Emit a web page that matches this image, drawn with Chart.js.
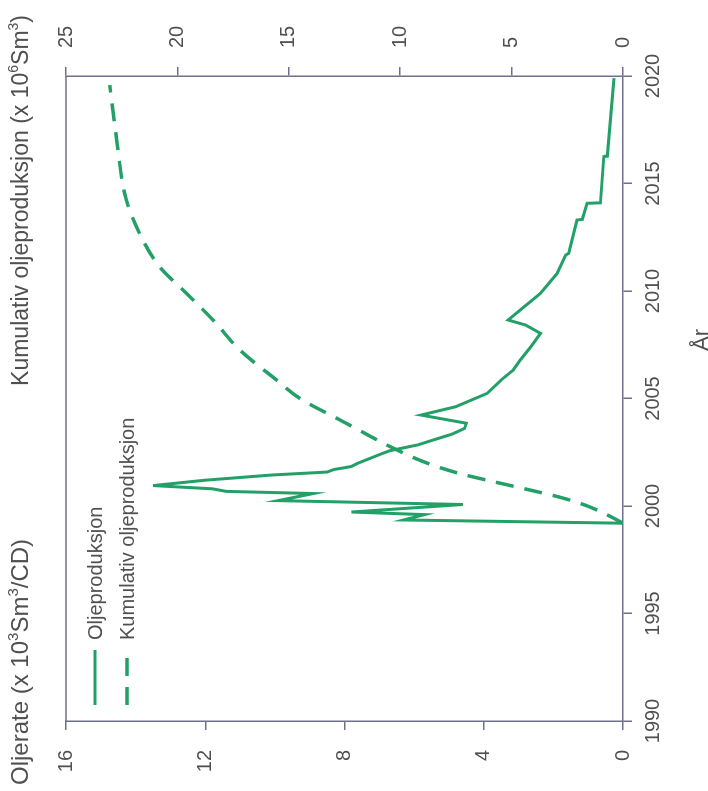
<!DOCTYPE html>
<html>
<head>
<meta charset="utf-8">
<script src="https://cdn.jsdelivr.net/npm/chart.js@4/dist/chart.umd.min.js"></script>
<style>
  html, body { margin: 0; padding: 0; background: #fff; overflow: hidden; }
  /* the chart is drawn upright and turned a quarter turn, like the scanned page */
  #wrap {
    position: absolute; left: 0; top: 0; width: 791px; height: 708px;
    transform-origin: 0 0; transform: translate(0, 791px) rotate(-90deg);
  }
</style>
</head>
<body>
<div id="wrap"><canvas id="c" width="791" height="708"></canvas></div>
<script>
// Oljerate (x 10^3 Sm3/CD)
const rateYears = [1999.2, 1999.35, 1999.6, 1999.72, 2000.07, 2000.25, 2000.58, 2000.68, 2000.8, 2000.95,
  2001.2, 2001.44, 2001.58, 2001.7, 2001.78, 2001.84, 2002.0, 2002.45, 2002.57, 2002.84,
  2003.07, 2003.35, 2003.61, 2003.85, 2004.23, 2004.62, 2005.24, 2005.86, 2006.33, 2006.79,
  2007.4, 2008.03, 2008.42, 2008.65, 2009.25, 2009.89, 2010.82, 2011.67, 2011.75, 2013.3,
  2013.33, 2014.08, 2014.1, 2016.25, 2016.27, 2019.9];
const rateValues = [0.0, 6.3, 5.7, 7.8, 4.6, 9.9, 8.9, 11.4, 11.8, 13.5,
  12.0, 10.1, 8.5, 8.3, 8.0, 7.8, 7.6, 6.9, 6.7, 5.9,
  5.45, 4.9, 4.55, 4.5, 5.8, 4.8, 3.9, 3.5, 3.15, 2.95,
  2.65, 2.37, 2.8, 3.3, 2.85, 2.37, 1.89, 1.65, 1.56, 1.32,
  1.17, 1.03, 0.65, 0.55, 0.45, 0.26];

// Kumulativ oljeproduksjon (x 10^6 Sm3)
const cumYears = [1999.2, 1999.58, 2000.0, 2000.37, 2000.88, 2001.2, 2001.53, 2002.0, 2002.76, 2003.5,
  2004.0, 2005.0, 2005.86, 2007.26, 2008.65, 2009.9, 2011.13, 2012.68, 2014.23, 2017.18, 2019.58];
const cumValues = [0, 0.7, 1.6, 2.7, 4.75, 6.1, 7.4, 8.8, 10.45, 11.8,
  12.7, 14.5, 15.55, 17.2, 18.4, 19.6, 20.8, 21.7, 22.29, 22.74, 23.04];

const yearRange = [1990, 2020];
const rateRange = [0, 16];
const cumRange = [0, 25];
const seriesNames = ['Oljeproduksjon', 'Kumulativ oljeproduksjon'];

const green = '#23a067';
const axisColor = '#6f6f8e';
const textColor = '#505050';
const family = '"Liberation Sans", Arial, Helvetica, sans-serif';

function toPoints(xs, ys) {
  return xs.map((x, i) => ({ x: x, y: ys[i] }));
}

// text with superscripts: parts = [[text, isSup], ...]
function drawRich(ctx, parts, x, y, align, size) {
  const supSize = Math.round(size * 0.62);
  let w = 0;
  parts.forEach(([t, sup]) => {
    ctx.font = (sup ? supSize : size) + 'px ' + family;
    w += ctx.measureText(t).width;
  });
  let cx = align === 'right' ? x - w : x;
  ctx.textBaseline = 'alphabetic';
  ctx.textAlign = 'left';
  parts.forEach(([t, sup]) => {
    ctx.font = (sup ? supSize : size) + 'px ' + family;
    ctx.fillText(t, cx, sup ? y - size * 0.42 : y);
    cx += ctx.measureText(t).width;
  });
}

const decorations = {
  id: 'decorations',
  afterDraw(chart) {
    const { ctx, chartArea: a } = chart;
    ctx.save();

    // top frame line
    ctx.strokeStyle = axisColor;
    ctx.lineWidth = 1.5;
    ctx.beginPath();
    ctx.moveTo(a.left, a.top);
    ctx.lineTo(a.right, a.top);
    ctx.stroke();

    // axis titles
    ctx.fillStyle = textColor;
    drawRich(ctx, [['Oljerate (x 10', false], ['3', true], ['Sm', false], ['3', true], ['/CD)', false]], 6, 28, 'left', 24);
    drawRich(ctx, [['Kumulativ oljeproduksjon (x 10', false], ['6', true], ['Sm', false], ['3', true], [')', false]], 776, 28, 'right', 23);

    ctx.font = '22px ' + family;
    ctx.textAlign = 'center';
    ctx.textBaseline = 'middle';
    ctx.fillText('År', 451, 702);

    // legend inside the plot
    const rows = [a.top + 29, a.top + 61];
    chart.data.datasets.forEach((ds, i) => {
      const y = rows[i];
      ctx.strokeStyle = ds.borderColor;
      ctx.lineWidth = ds.borderWidth;
      ctx.setLineDash(ds.borderDash || []);
      ctx.beginPath();
      ctx.moveTo(a.left + 16, y);
      ctx.lineTo(a.left + 71, y);
      ctx.stroke();
      ctx.setLineDash([]);
      ctx.fillStyle = textColor;
      ctx.font = '20px ' + family;
      ctx.textAlign = 'left';
      ctx.textBaseline = 'middle';
      ctx.fillText(ds.label, a.left + 81, y + 1);
    });
    ctx.restore();
  }
};

function axisStyle(extra) {
  return Object.assign({
    grid: { drawOnChartArea: false, drawTicks: true, tickLength: 9, color: axisColor, lineWidth: 1.5 },
    border: { color: axisColor, width: 1.5 },
  }, extra);
}

new Chart(document.getElementById('c'), {
  type: 'line',
  data: {
    datasets: [{
      label: seriesNames[0],
      data: toPoints(rateYears, rateValues),
      yAxisID: 'y',
      borderColor: green,
      borderWidth: 3,
      pointRadius: 0,
      tension: 0,
      fill: false
    }, {
      label: seriesNames[1],
      data: toPoints(cumYears, cumValues),
      yAxisID: 'y2',
      borderColor: green,
      borderWidth: 3.5,
      borderDash: [18, 11],
      pointRadius: 0,
      cubicInterpolationMode: 'monotone',
      fill: false
    }]
  },
  options: {
    responsive: false,
    animation: false,
    layout: { padding: { top: 66, left: 0, right: 0, bottom: 0 } },
    plugins: { legend: { display: false }, title: { display: false }, tooltip: { enabled: false } },
    scales: {
      x: axisStyle({
        type: 'linear', position: 'bottom', min: yearRange[0], max: yearRange[1],
        ticks: { stepSize: 5, autoSkip: false, maxRotation: 0, padding: 9, color: textColor,
          font: { size: 20, family: family }, callback: v => String(v) },
        afterFit: s => { s.height = 85; }
      }),
      y: axisStyle({
        position: 'left', min: rateRange[0], max: rateRange[1],
        ticks: { stepSize: 4, padding: 20, color: textColor, font: { size: 20, family: family } },
        afterFit: s => { s.width = 70; }
      }),
      y2: axisStyle({
        position: 'right', min: cumRange[0], max: cumRange[1],
        ticks: { stepSize: 5, padding: 19, color: textColor, font: { size: 20, family: family } },
        afterFit: s => { s.width = 76; }
      })
    }
  },
  plugins: [decorations]
});
</script>
</body>
</html>
